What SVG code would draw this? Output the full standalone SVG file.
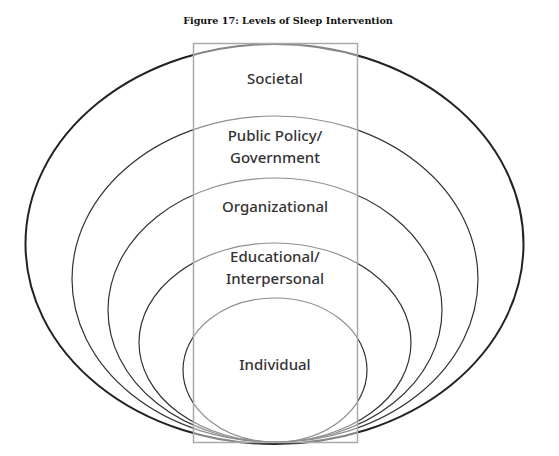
<svg xmlns="http://www.w3.org/2000/svg" width="559" height="456" viewBox="0 0 559 456">
<style>
.ring{fill:none;stroke:#333;stroke-width:1.2}
.outer{fill:none;stroke:#222;stroke-width:2}
.lbl{font-family:"Noto Sans","Noto Sans CJK KR",sans-serif;font-size:15px;fill:#333;text-anchor:middle;font-weight:500}
.title{font-family:"DejaVu Serif","Liberation Serif",serif;font-size:9.6px;font-weight:bold;fill:#111;text-anchor:middle}
</style>
<rect width="559" height="456" fill="#fff"/>
<text class="title" x="288" y="24">Figure 17: Levels of Sleep Intervention</text>
<g id="societal">
<ellipse class="outer" cx="274.5" cy="244" rx="249" ry="200"/>
</g>
<g id="public-policy">
<ellipse class="ring" cx="275" cy="279" rx="203" ry="163"/>
</g>
<g id="organizational">
<ellipse class="ring" cx="275" cy="310" rx="167" ry="132"/>
</g>
<g id="educational">
<ellipse class="ring" cx="275" cy="342.5" rx="136" ry="99.5"/>
</g>
<g id="individual">
<ellipse class="ring" cx="275" cy="370" rx="92" ry="72"/>
</g>
<g id="column">
<rect x="193.5" y="43.5" width="164" height="399" fill="#fff" fill-opacity="0.45" stroke="#aaa" stroke-width="1.5"/>
</g>
<g id="labels">
<text class="lbl" x="275" y="84">Societal</text>
<text class="lbl" x="275" y="141">Public Policy/</text>
<text class="lbl" x="275" y="163">Government</text>
<text class="lbl" x="275" y="212">Organizational</text>
<text class="lbl" x="275" y="262">Educational/</text>
<text class="lbl" x="275" y="284">Interpersonal</text>
<text class="lbl" x="275" y="370">Individual</text>
</g>
</svg>
